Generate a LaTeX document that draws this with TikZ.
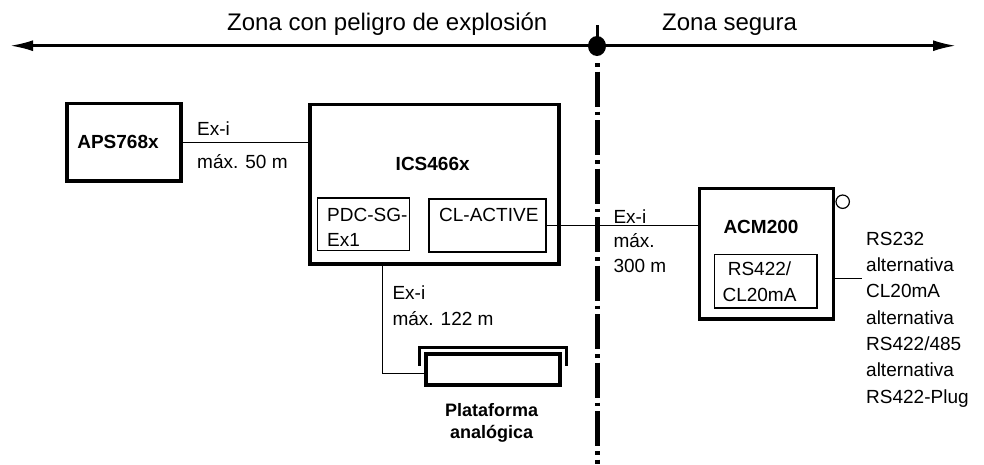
\documentclass[tikz,border=0pt]{standalone}
\usepackage{fontspec}
\setmainfont{Liberation Sans}
\usetikzlibrary{arrows.meta}

\begin{document}
\begin{tikzpicture}[x=1pt,y=-1pt,
    lbl/.style={font=\fontsize{19}{25.5}\selectfont,inner sep=0pt,align=left,anchor=base west},
    devname/.style={font=\bfseries\fontsize{19}{23}\selectfont,inner sep=0pt,anchor=base},
    unit/.style={draw,line width=3.4pt,inner sep=0pt},
    card/.style={draw,line width=1.2pt,inner sep=0pt},
    wire/.style={line width=1.2pt}]
        \useasboundingbox (0,0) rectangle (984,464);
        % zonas (multi-line nodes sit on the baseline of their last line)
        \draw[line width=2.5pt,{Latex[length=23pt,width=11pt]}-{Latex[length=23pt,width=11pt]}] (10,45.7) -- (956,45.7);
        \node[lbl,font=\fontsize{24}{28}\selectfont] (peligro) at (227,30) {Zona con peligro de explosión};
        \node[lbl,font=\fontsize{24}{28}\selectfont] (segura) at (662,30) {Zona segura};
        \draw[line width=3pt] (597,25) -- (597,46);
        \fill (597,46) ellipse [x radius=9, y radius=10];
        \draw[line width=5pt,dash pattern=on 3.5pt off 5pt on 35pt off 5pt] (597,63) -- (597,464);
        % aparatos
        \node[unit,minimum width=114,minimum height=77.5] (aps) at (124,142.25) {};
        \node[devname] at (118,148.3) {APS768x};
        \node[unit,minimum width=249,minimum height=159.5] (ics) at (434.5,184.25) {};
        \node[devname] at (432.7,170) {ICS466x};
        \node[card,minimum width=92.2,minimum height=52.6] (pdc) at (363.4,224.2) {};
        \node[lbl] at (327,246.7) {PDC-SG-\\Ex1};
        \node[card,minimum width=117,minimum height=53] (cla) at (487.5,225.5) {};
        \node[lbl] at (439,221.7) {CL-ACTIVE};
        \node[unit,minimum width=133.5,minimum height=130.5] (acm) at (766.5,253.7) {};
        \node[devname] at (761,233.3) {ACM200};
        \node[card,minimum width=102.3,minimum height=53.3] (rs) at (765.8,281.3) {};
        \node[lbl,font=\fontsize{19}{26.7}\selectfont,align=center,anchor=base] at (759.5,301.7) {RS422/\\CL20mA};
        \node[draw,circle,line width=1.2pt,minimum size=13.4,inner sep=0pt] (led) at (842.7,201.7) {};
        \node[unit,line width=4pt,minimum width=133.4,minimum height=31.3] (plat) at (493,369.7) {};
        \draw[line width=3.5pt] (419.7,365.7) |- (566.3,347.5) -- (566.3,365.7);
        \node[devname,font=\bfseries\fontsize{18}{21.6}\selectfont,align=center] at (491.7,438.3) {Plataforma\\analógica};
        % cables
        \draw[wire] (aps.east) -- (aps.east -| ics.west);
        \node[lbl] at (197,135) {Ex-i};
        \node[lbl] at (197,168) {máx. 50 m};
        \draw[wire] (cla.east) -- (cla.east -| acm.west);
        \node[lbl,font=\fontsize{19}{24.5}\selectfont] at (613.3,272) {Ex-i\\máx.\\300 m};
        \coordinate (drop) at (382.3,373.3);
        \draw[wire] (ics.south -| drop) |- (drop -| plat.west);
        \node[lbl,font=\fontsize{19}{25.7}\selectfont] at (392.3,325) {Ex-i\\máx. 122 m};
        \coordinate (rsend) at (861.7,278.3);
        \draw[wire] (acm.east |- rsend) -- (rsend);
        \node[lbl,font=\fontsize{19}{26.3}\selectfont] at (866,403) {RS232\\alternativa\\CL20mA\\alternativa\\RS422/485\\alternativa\\RS422-Plug};
\end{tikzpicture}
\end{document}
